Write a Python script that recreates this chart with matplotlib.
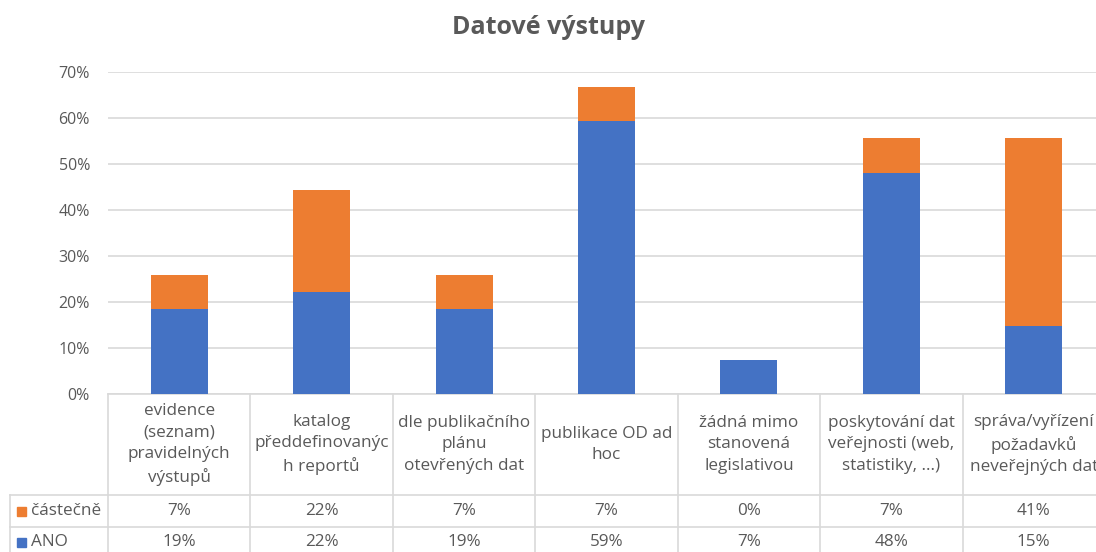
import matplotlib.pyplot as plt
from matplotlib.transforms import blended_transform_factory
from matplotlib.patches import Rectangle
from matplotlib.lines import Line2D

plt.rcParams['font.family'] = ['Open Sans', 'DejaVu Sans']

# Data (podíl respondentů, %)
kategorie = [
    "evidence\n(seznam)\npravidelných\nvýstupů",
    "katalog\npředdefinovanýc\nh reportů",
    "dle publikačního\nplánu\notevřených dat",
    "publikace OD ad\nhoc",
    "žádná mimo\nstanovená\nlegislativou",
    "poskytování dat\nveřejnosti (web,\nstatistiky, ...)",
    "správa/vyřízení\npožadavků\nneveřejných dat",
]
ano = [18.52, 22.22, 18.52, 59.26, 7.41, 48.15, 14.81]
castecne = [7.41, 22.22, 7.41, 7.41, 0.0, 7.41, 40.74]
serie = [("částečně", castecne, "#ED7D31"), ("ANO", ano, "#4472C4")]

TXT = "#595959"
GRID = "#D9D9D9"
W, H = 1096, 552
FS = 12.3

fig = plt.figure(figsize=(W / 100, H / 100), dpi=100)
# plot area in pixels: left 108, right 1105, top 72, bottom 394
ax = fig.add_axes([108 / W, (H - 394) / H, (1105 - 108) / W, (394 - 72) / H])

x = range(len(kategorie))
ax.bar(x, [v / 100 for v in ano], width=0.4, color="#4472C4", zorder=3)
ax.bar(x, [v / 100 for v in castecne], width=0.4, bottom=[v / 100 for v in ano],
       color="#ED7D31", zorder=3)

ax.set_xlim(-0.5, len(kategorie) - 0.5)
ax.set_ylim(0, 0.7)
ax.set_yticks([i / 10 for i in range(8)])
ax.set_yticklabels([f"{i * 10}%" for i in range(8)])
ax.tick_params(axis="y", length=0, pad=13, labelsize=11.5, labelcolor=TXT)
ax.set_xticks([])
ax.grid(axis="y", color=GRID, linewidth=1.2, zorder=0)
for s in ax.spines.values():
    s.set_visible(False)

fig.text(0.5, 1 - 28 / H, "Datové výstupy", ha="center", va="center",
         fontsize=18, fontweight="bold", color=TXT)

# data table under the plot
tr = blended_transform_factory(ax.transData, ax.transAxes)
px = 1 / (394 - 72)  # one pixel in axes units (vertical)
rows_y = [0, -101 * px, -133 * px, -166 * px]
lw = 1.2
n = len(kategorie)
for y in rows_y[:3]:
    ax.add_line(Line2D([-0.5, n - 0.5], [y, y], transform=tr, color=GRID,
                       lw=lw, clip_on=False))
for k in range(n + 1):
    ax.add_line(Line2D([k - 0.5, k - 0.5], [rows_y[0], rows_y[-1]], transform=tr,
                       color=GRID, lw=lw, clip_on=False))


def fy(ypix):
    return 1 - ypix / H


# legend column
for ypix in [495, 527]:
    fig.add_artist(Line2D([10 / W, 108 / W], [fy(ypix), fy(ypix)], color=GRID, lw=lw))
fig.add_artist(Line2D([10 / W, 10 / W], [fy(495), fy(566)], color=GRID, lw=lw))

for i, lab in enumerate(kategorie):
    ax.text(i, (rows_y[0] + rows_y[1]) / 2, lab, transform=tr, ha="center",
            va="center", fontsize=FS, color=TXT, linespacing=1.45, clip_on=False)

for r, (name, vals, col) in enumerate(serie):
    ypix = 511 + 31 * r
    for i, v in enumerate(vals):
        ax.text(i, rows_y[0] - (ypix - 394) * px, f"{v:.0f}%", transform=tr,
                ha="center", va="center", fontsize=FS, color=TXT, clip_on=False)
    fig.add_artist(Rectangle((17 / W, fy(ypix) - 4.5 / H), 9 / W, 9 / H, color=col))
    fig.text(31 / W, fy(ypix), name, ha="left", va="center", fontsize=FS, color=TXT)

fig.savefig("out.png", dpi=100)
